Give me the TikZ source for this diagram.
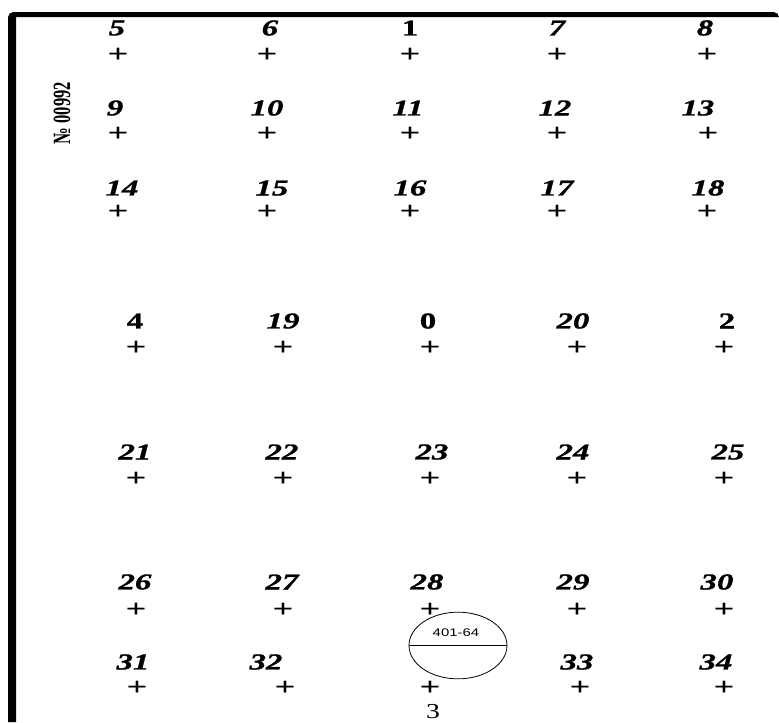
\documentclass[tikz,border=0pt]{standalone}
\usepackage{fontspec}
\setmainfont{Liberation Serif}
\newfontfamily\lblfont[FakeStretch=1.45,FakeBold=1.2]{Liberation Serif}
\newfontfamily\ptfont[FakeStretch=1.45]{Liberation Serif}
\newfontfamily\wellfont[FakeStretch=1.35]{Liberation Sans}
\newfontfamily\numfont[FakeStretch=1.3]{Liberation Serif}
\usetikzlibrary{shapes.geometric}
\tikzset{
  lbl/.style={inner sep=0pt, font=\lblfont\fontsize{17}{17}\selectfont\bfseries\itshape},
  lblup/.style={inner sep=0pt, font=\lblfont\fontsize{17}{17}\selectfont\bfseries},
  pt/.style={inner sep=0pt, font=\ptfont\fontsize{19}{19}\selectfont\bfseries},
  wellbox/.style={ellipse, draw, line width=0.6pt, minimum width=73.5pt, minimum height=50pt, inner sep=0pt},
}
\begin{document}
\begin{tikzpicture}[x=0.75pt,y=-0.75pt]
\useasboundingbox (0,0) rectangle (779,722);
% frame
\fill (8,722) [rounded corners=4] -- (8,12) -- (779,12) [sharp corners] -- (779,17) -- (16,17) -- (16,722) -- cycle;
% number
\node[rotate=90, inner sep=0pt] (num) at (62,113) {\scalebox{1}[1.5]{\fontsize{12.4}{12.4}\selectfont\bfseries № 00992}};
% row 1
\node[lbl] (l5) at (117,28) {5};   \node[pt] (p5) at (118,55) {+};
\node[lbl] (l6) at (270,28) {6};   \node[pt] (p6) at (267,55) {+};
\node[lblup] (l1) at (410,28) {1}; \node[pt] (p1) at (410,55) {+};
\node[lbl] (l7) at (557,28) {7};   \node[pt] (p7) at (557,55) {+};
\node[lbl] (l8) at (705,28) {8};   \node[pt] (p8) at (707,55) {+};
% row 2
\node[lbl] (l9) at (115,108) {9};   \node[pt] (p9) at (118,134) {+};
\node[lbl] (l10) at (267,108) {10}; \node[pt] (p10) at (267,134) {+};
\node[lbl] (l11) at (408,108) {11}; \node[pt] (p11) at (410,134) {+};
\node[lbl] (l12) at (555,108) {12}; \node[pt] (p12) at (557,134) {+};
\node[lbl] (l13) at (698,108) {13}; \node[pt] (p13) at (708,134) {+};
% row 3
\node[lbl] (l14) at (122,188) {14}; \node[pt] (p14) at (118,212) {+};
\node[lbl] (l15) at (272,188) {15}; \node[pt] (p15) at (267,212) {+};
\node[lbl] (l16) at (410,188) {16}; \node[pt] (p16) at (410,212) {+};
\node[lbl] (l17) at (557,188) {17}; \node[pt] (p17) at (557,212) {+};
\node[lbl] (l18) at (708,188) {18}; \node[pt] (p18) at (707,212) {+};
% row 4
\node[lblup] (l4) at (135,321) {4};  \node[pt] (p4) at (136,348) {+};
\node[lbl] (l19) at (283,321) {19};  \node[pt] (p19) at (283,348) {+};
\node[lblup] (l0) at (428,321) {0};  \node[pt] (p0) at (430,348) {+};
\node[lbl] (l20) at (573,321) {20};  \node[pt] (p20) at (577,348) {+};
\node[lblup] (l2) at (727,321) {2};  \node[pt] (p2) at (724,348) {+};
% row 5
\node[lbl] (l21) at (135,452) {21}; \node[pt] (p21) at (136,479) {+};
\node[lbl] (l22) at (282,452) {22}; \node[pt] (p22) at (283,479) {+};
\node[lbl] (l23) at (432,452) {23}; \node[pt] (p23) at (430,479) {+};
\node[lbl] (l24) at (573,452) {24}; \node[pt] (p24) at (577,479) {+};
\node[lbl] (l25) at (728,452) {25}; \node[pt] (p25) at (724,479) {+};
% row 6
\node[lbl] (l26) at (135,582) {26}; \node[pt] (p26) at (136,610) {+};
\node[lbl] (l27) at (282,582) {27}; \node[pt] (p27) at (283,610) {+};
\node[lbl] (l28) at (427,582) {28}; \node[pt] (p28) at (430,610) {+};
\node[lbl] (l29) at (573,582) {29}; \node[pt] (p29) at (577,610) {+};
\node[lbl] (l30) at (717,582) {30}; \node[pt] (p30) at (724,610) {+};
% row 7
\node[lbl] (l31) at (133,662) {31}; \node[pt] (p31) at (137,688) {+};
\node[lbl] (l32) at (266,662) {32}; \node[pt] (p32) at (285,688) {+};
\node[pt] (p3) at (430,688) {+};
\node[lbl] (l33) at (577,662) {33}; \node[pt] (p33) at (580,688) {+};
\node[lbl] (l34) at (716,662) {34}; \node[pt] (p34) at (724,688) {+};
\node[inner sep=0pt, font=\numfont\fontsize{16}{16}\selectfont] (l3) at (433,712) {3};
% well
\node[wellbox, fill=white] (well) at (458,645.5) {};
\draw[line width=0.6pt] (well.west) -- (well.east);
\node[inner sep=0pt, font=\wellfont\fontsize{8.3}{8.3}\selectfont] (wl) at (456,633) {401-64};
\end{tikzpicture}
\end{document}
